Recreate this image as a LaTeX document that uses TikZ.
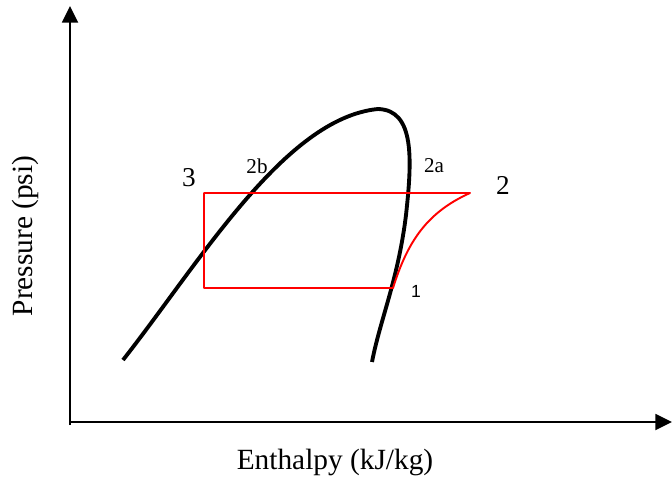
\documentclass[tikz,border=0pt]{standalone}
\usepackage{fontspec}
\setmainfont{Liberation Serif}
\newfontfamily\labelsans{Liberation Sans}
\usetikzlibrary{arrows.meta}

\begin{document}
\begin{tikzpicture}[
        x = 0.02cm, y = -0.02cm,
        >= {Triangle[length = 9.5pt, width = 9pt]},
        axis/.style = {draw = black, line width = 1.4pt},
        dome/.style = {draw = black, line width = 2.2pt},
        cycle/.style = {draw = red, line width = 1.1pt, line join = round},
        state label/.style = {font = \fontsize{15.5}{18}\selectfont, inner sep = 0pt},
        point label/.style = {font = \fontsize{12}{14}\selectfont, inner sep = 0pt},
        axis label/.style = {font = \fontsize{16.7}{20}\selectfont, inner sep = 0pt}
    ]

    \useasboundingbox (0,0) rectangle (672,479);

    % axes
    \coordinate (origin) at (70,422);
    \coordinate (ytop)   at (70,6);
    \coordinate (xend)   at (672,422);

    \draw[axis, ->] (origin |- 0,425) -- (ytop);
    \draw[axis, ->] (origin) -- (xend);

    \node[axis label, rotate = 90] (ylab) at (25,236) {Pressure (psi)};
    \node[axis label]              (xlab) at (335,462) {Enthalpy (kJ/kg)};

    % saturation dome
    \coordinate (liq)  at (123,360);
    \coordinate (top)  at (378,109);
    \coordinate (vap)  at (372,362);

    \draw[dome] (liq) .. controls (200,262) and (285,118) .. (top)
                      .. controls (415,110) and (412,160) .. (406,215)
                      .. controls (398,280) and (380,320) .. (vap);

    % cycle
    \coordinate (p3) at (204,193);
    \coordinate (p2) at (470,193);
    \coordinate (p1) at (393,288);
    \coordinate (p4) at (204,288);

    \draw[cycle] (p4) -- (p3) -- (p2)
                 .. controls (428,212) and (408,240) .. (p1) -- cycle;

    % state points
    \node[state label] (l3)  at (189,178) {3};
    \node[point label] (l2b) at (257,166) {2b};
    \node[point label] (l2a) at (434,166) {2a};
    \node[state label] (l2)  at (503,185) {2};
    \node[inner sep = 0pt, font = \labelsans\fontsize{10}{12}\selectfont] (l1) at (416,291) {1};

\end{tikzpicture}
\end{document}
